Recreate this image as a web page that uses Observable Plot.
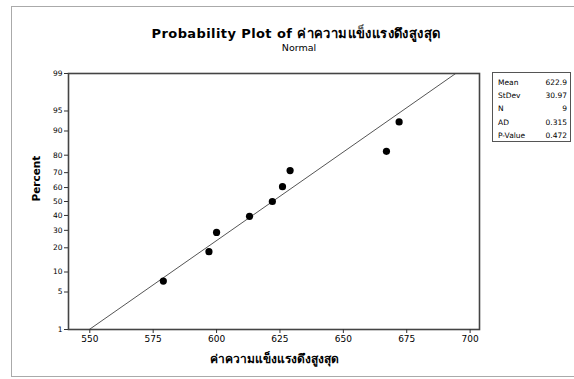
<!DOCTYPE html>
<html><head><meta charset="utf-8">
<script src="https://cdn.jsdelivr.net/npm/d3@7"></script>
<script src="https://cdn.jsdelivr.net/npm/@observablehq/plot@0.6"></script>
<style>
body{margin:0;background:#fff;}
#wrap{position:relative;width:574px;height:379px;overflow:hidden;font-family:"DejaVu Sans","Liberation Sans",sans-serif;background:#fff;}
#border{position:absolute;left:11px;top:6px;width:570px;height:371px;border:1.5px solid #aaa;box-sizing:border-box;}
#title{position:absolute;left:0;width:592px;top:23px;text-align:center;font-weight:bold;font-size:13px;letter-spacing:0.4px;color:#000;}
#subtitle{position:absolute;left:0;width:598px;top:42px;text-align:center;font-size:9.5px;color:#000;}
#chart{position:absolute;left:0;top:0;}
#legend{position:absolute;left:492px;top:72px;width:79px;height:70px;border:1.5px solid #555;box-sizing:border-box;font-size:7.5px;color:#000;}
.row{position:absolute;left:5px;right:3px;height:12px;line-height:12px;}
.row .l{position:absolute;left:0;}
.row .v{position:absolute;right:0;}
</style>
</head><body>
<div id="wrap">
  <div id="border"></div>
  <div id="chart"></div>
  <div id="title"></div>
  <div id="subtitle"></div>
  <div id="legend"></div>
</div>
<script>
// ---- data ----
const titleText = "Probability Plot of ค่าความแข็งแรงดึงสูงสุด";
const subtitleText = "Normal";
const xLabel = "ค่าความแข็งแรงดึงสูงสุด";
const yLabel = "Percent";
const strength = [579, 597, 600, 613, 622, 626, 629, 667, 672];
const percent = [7.4, 18.1, 28.7, 39.4, 50, 60.6, 71.3, 81.9, 92.6];
const fitX = [549.8, 694.3];
const fitP = [1, 99];
const xTicks = [550, 575, 600, 625, 650, 675, 700];
const percentTicks = [1, 5, 10, 20, 30, 40, 50, 60, 70, 80, 90, 95, 99];
const statLabels = ["Mean", "StDev", "N", "AD", "P-Value"];
const statValues = ["622.9", "30.97", "9", "0.315", "0.472"];

// inverse normal CDF (Acklam)
function probit(p) {
  const a = [-3.969683028665376e+01, 2.209460984245205e+02, -2.759285104469687e+02, 1.383577518672690e+02, -3.066479806614716e+01, 2.506628277459239e+00];
  const b = [-5.447609879822406e+01, 1.615858368580409e+02, -1.556989798598866e+02, 6.680131188771972e+01, -1.328068155288572e+01];
  const c = [-7.784894002430293e-03, -3.223964580411365e-01, -2.400758277161838e+00, -2.549732539343734e+00, 4.374664141464968e+00, 2.938163982698783e+00];
  const d = [7.784695709041462e-03, 3.224671290700398e-01, 2.445134137142996e+00, 3.754408661907416e+00];
  const pl = 0.02425, ph = 1 - pl;
  let q, r;
  if (p < pl) { q = Math.sqrt(-2 * Math.log(p)); return (((((c[0]*q+c[1])*q+c[2])*q+c[3])*q+c[4])*q+c[5]) / ((((d[0]*q+d[1])*q+d[2])*q+d[3])*q+1); }
  if (p > ph) { q = Math.sqrt(-2 * Math.log(1 - p)); return -(((((c[0]*q+c[1])*q+c[2])*q+c[3])*q+c[4])*q+c[5]) / ((((d[0]*q+d[1])*q+d[2])*q+d[3])*q+1); }
  q = p - 0.5; r = q * q;
  return (((((a[0]*r+a[1])*r+a[2])*r+a[3])*r+a[4])*r+a[5])*q / (((((b[0]*r+b[1])*r+b[2])*r+b[3])*r+b[4])*r+1);
}
const zOf = pct => probit(pct / 100);

document.getElementById("title").textContent = titleText;
document.getElementById("subtitle").textContent = subtitleText;
const leg = document.getElementById("legend");
statLabels.forEach((l, i) => {
  const row = document.createElement("div");
  row.className = "row";
  row.style.top = (4 + i * 13.2) + "px";
  row.innerHTML = `<span class="l"></span><span class="v"></span>`;
  row.querySelector(".l").textContent = l;
  row.querySelector(".v").textContent = statValues[i];
  leg.appendChild(row);
});

const points = strength.map((x, i) => ({x, p: percent[i]}));
const fit = fitX.map((x, i) => ({x, p: fitP[i]}));
const zTicks = percentTicks.map(zOf);
const font = '"DejaVu Sans", "Liberation Sans", sans-serif';

const chart = Plot.plot({
  width: 574, height: 379,
  marginLeft: 68, marginRight: 95, marginTop: 73, marginBottom: 50,
  style: {fontFamily: font, fontSize: "9px", background: "transparent", color: "#000"},
  x: {domain: [541.6, 703.7]},
  y: {domain: [zOf(1), zOf(99)]},
  marks: [
    Plot.line(fit, {x: "x", y: d => zOf(d.p), stroke: "#555", strokeWidth: 1}),
    Plot.dot(points, {x: "x", y: d => zOf(d.p), r: 3.6, fill: "#000", stroke: "none"}),
    Plot.frame({stroke: "#444", strokeWidth: 1.6}),
    Plot.axisX(xTicks, {tickSize: 4, tickPadding: 2, label: null, stroke: "#333", fontSize: 9}),
    Plot.axisY(zTicks, {tickSize: 4, tickPadding: 2, label: null, stroke: "#333", fontSize: 7.5, tickFormat: d => percentTicks[zTicks.indexOf(d)]}),
    Plot.text([xLabel], {frameAnchor: "bottom", dy: 33, text: d => d, fontWeight: "bold", fontSize: 12, letterSpacing: 0.7}),
    Plot.text([yLabel], {frameAnchor: "left", dx: -32, rotate: -90, text: d => d, fontWeight: "bold", fontSize: 10.5})
  ]
});
document.getElementById("chart").appendChild(chart);
</script>
</body></html>
